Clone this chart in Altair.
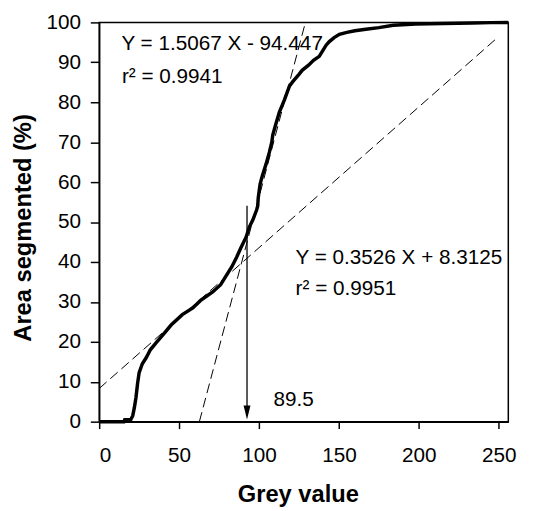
import altair as alt
import pandas as pd

# Cumulative segmented-area curve (grey value vs area %)
curve_x = [0, 15.5, 16, 19.7, 21, 22, 23, 24, 25, 27, 29.4, 32, 35.7, 40, 45, 52, 58.6,
           63.3, 71, 76, 79.5, 83, 86, 88.6, 91.9, 94, 96.1, 98.5, 99.2, 99.5, 100.7,
           102, 104.4, 106.5, 108, 108.6, 110.5, 112.7, 115.9, 119, 121, 125, 127, 131,
           134.1, 137.7, 140, 142, 144, 147, 150.3, 155, 160, 166.9, 175, 184, 198,
           215, 233.5, 245, 256]
curve_y = [0, 0, 0.5, 0.5, 1.5, 3.5, 6, 9.5, 12.3, 14.5, 16, 18, 19.8, 21.8, 24.2, 26.8,
           28.5, 30.3, 32.5, 34.3, 36.6, 38.8, 41.2, 43.5, 46.2, 48.8, 50.5, 53, 54, 56,
           59.5, 61.5, 64.5, 67.5, 70, 71.8, 74.5, 77.5, 80.6, 84, 85.1, 87, 88, 89.3,
           90.5, 91.5, 93, 94.3, 95.2, 96.2, 97, 97.5, 97.9, 98.3, 98.7, 99.3, 99.6,
           99.75, 99.85, 99.95, 100]

# Regression lines (end points)
fit1_x = [62.68, 129.05]
fit1_y = [0, 100]
fit2_x = [0, 248]
fit2_y = [8.31, 95.76]

# Threshold arrow
arrow_x = [92.5]
arrow_top = [54.1]
arrow_base = [2.3]

# Annotations
ann_text = ["Y = 1.5067 X - 94.447", "r² = 0.9941", "Y = 0.3526 X + 8.3125", "r² = 0.9951", "89.5"]
ann_x = [13.9, 14.2, 122.9, 122.9, 109]
ann_y = [93.0, 84.7, 39.6, 31.8, 4.0]

x_ticks = [0, 50, 100, 150, 200, 250]
y_ticks = [0, 10, 20, 30, 40, 50, 60, 70, 80, 90, 100]

FONT = "Liberation Sans"

curve_df = pd.DataFrame({"x": curve_x, "y": curve_y})
fit_df = pd.DataFrame({
    "x": fit1_x + fit2_x,
    "y": fit1_y + fit2_y,
    "line": ["a", "a", "b", "b"],
})
arrow_df = pd.DataFrame({"x": arrow_x, "y": arrow_top, "y2": arrow_base})
head_df = pd.DataFrame({"x": arrow_x, "y": arrow_base})
ann_df = pd.DataFrame({"x": ann_x, "y": ann_y, "text": ann_text})

xscale = alt.Scale(domain=[0, 256], nice=False, zero=False)
yscale = alt.Scale(domain=[0, 100], nice=False)

xaxis = alt.Axis(values=x_ticks, grid=False, tickSize=7, labelPadding=16,
                 labelFontSize=21, labelFont=FONT,
                 titleFontSize=24, titleFont=FONT, titleFontWeight="bold",
                 titleX=201.5, titleY=81, titleAlign="center", titleBaseline="alphabetic")
yaxis = alt.Axis(values=y_ticks, grid=False, tickSize=9, labelPadding=10,
                 labelFontSize=21, labelFont=FONT,
                 titleFontSize=24, titleFont=FONT, titleFontWeight="bold",
                 titleAngle=270, titleX=-70, titleY=208, titleAlign="center",
                 titleBaseline="alphabetic")

X = alt.X("x:Q", scale=xscale, axis=xaxis, title="Grey value")
Y = alt.Y("y:Q", scale=yscale, axis=yaxis, title="Area segmented (%)")

curve = alt.Chart(curve_df).mark_line(color="black", strokeWidth=3.5).encode(x=X, y=Y)

fits = alt.Chart(fit_df).mark_line(color="black", strokeWidth=1, strokeDash=[10, 5]).encode(
    x=X, y=Y, detail="line:N")

rule = alt.Chart(arrow_df).mark_rule(color="black", strokeWidth=1.3).encode(
    x=X, y=Y, y2="y2:Q")

head = alt.Chart(head_df).mark_point(
    shape="M-0.5,-1L0.5,-1L0,1Z", size=196, filled=True, color="black", opacity=1,
    strokeWidth=0).encode(x=X, y=Y)

texts = alt.Chart(ann_df).mark_text(
    align="left", baseline="alphabetic", fontSize=21, font=FONT, color="black").encode(
    x=X, y=Y, text="text:N")

chart = alt.layer(fits, rule, head, curve, texts).properties(
    width=415, height=405,
    autosize=alt.AutoSizeParams(type="none"),
    padding={"left": 92.5, "top": 11, "right": 22, "bottom": 87},
).configure_view(stroke="black", strokeWidth=1.5).configure_axis(
    domainColor="black", domainWidth=1.5, tickColor="black", tickWidth=1.5,
    labelColor="black", titleColor="black")

chart.save("out.html", embed_options={"renderer": "svg", "actions": False})
